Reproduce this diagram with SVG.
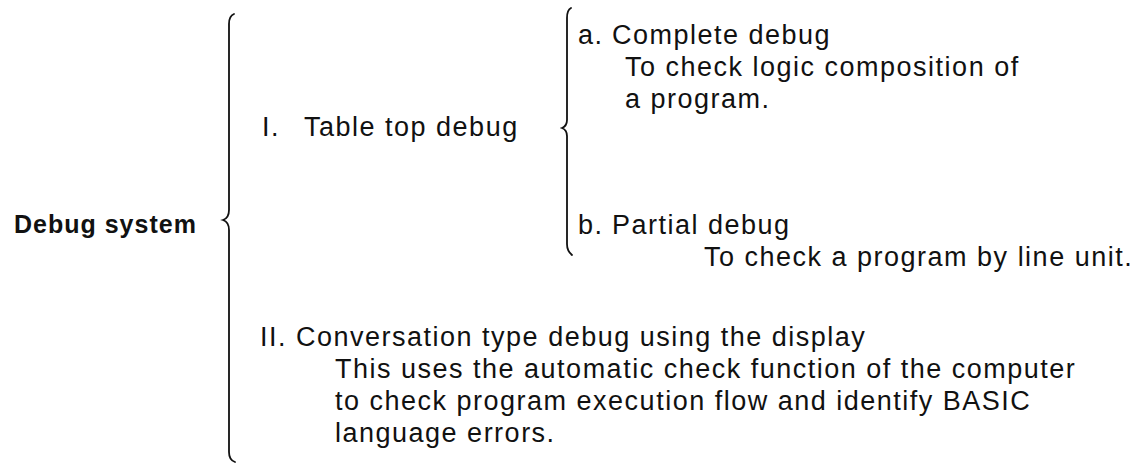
<svg xmlns="http://www.w3.org/2000/svg" width="1136" height="465" viewBox="0 0 1136 465">
<style>
text{font-family:"Liberation Sans",Arial,sans-serif;font-size:27px;letter-spacing:1.5px;fill:#111}
.b{font-weight:bold;font-size:25px;letter-spacing:1px}
.br{fill:none;stroke:#111;stroke-width:1.8;stroke-linecap:round}
</style>
<rect width="1136" height="465" fill="#fff"/>
<g id="connectors">
<path class="br" d="M234,14 Q229,16 229,24 L229,210 Q229,218 223,220 Q229,222 229,230 L229,452 Q229,460 235,462"/>
<path class="br" d="M571,8 Q567,10 567,18 L567,120 Q567,126 562,128 Q567,130 567,136 L567,244 Q567,251 572,255"/>
</g>
<g id="root"><text class="b" x="14" y="233">Debug system</text></g>
<g id="table-top"><text x="262" y="136">I.</text><text x="304" y="136">Table top debug</text></g>
<g id="complete">
<text x="578" y="44">a.</text><text x="612" y="44">Complete debug</text>
<text x="625" y="76">To check logic composition of</text>
<text x="625" y="108">a program.</text>
</g>
<g id="partial">
<text x="578" y="234">b.</text><text x="612" y="234">Partial debug</text>
<text x="704" y="266">To check a program by line unit.</text>
</g>
<g id="conversation">
<text x="260" y="346">II. Conversation type debug using the display</text>
<text x="335" y="378">This uses the automatic check function of the computer</text>
<text x="335" y="410">to check program execution flow and identify BASIC</text>
<text x="335" y="442">language errors.</text>
</g>
</svg>
